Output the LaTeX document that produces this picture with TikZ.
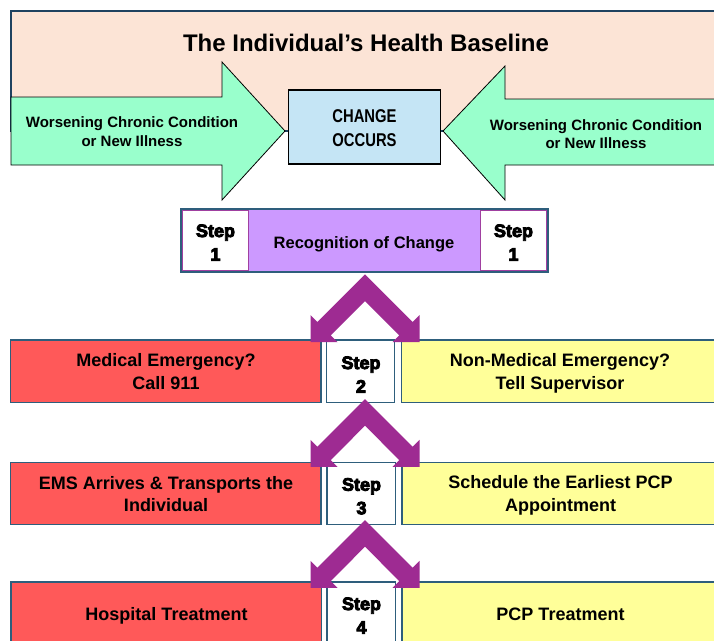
\documentclass[tikz,border=0pt]{standalone}
\usepackage{fontspec}
\setmainfont{Liberation Sans}
\newfontfamily\heavyfont[FakeBold=5]{Liberation Sans Bold}
\newfontfamily\narrowfont[FakeStretch=0.8]{Liberation Sans Bold}
\definecolor{peach}{HTML}{FCE4D6}
\definecolor{mint}{HTML}{99FFCC}
\definecolor{skyb}{HTML}{C5E5F5}
\definecolor{lilac}{HTML}{CC99FF}
\definecolor{coral}{HTML}{FF5959}
\definecolor{lemon}{HTML}{FFFF99}
\definecolor{plum}{HTML}{9E2B92}
\definecolor{edgeblue}{HTML}{2E5E7C}
\definecolor{darknavy}{HTML}{1F4260}
\definecolor{stepedge}{HTML}{A040A0}
\newcommand{\twolines}[1]{\begin{tabular}[t]{@{}c@{}}#1\end{tabular}}
\tikzset{
  box/.style={draw=edgeblue, line width=1.4pt, inner sep=0pt, outer sep=0pt, anchor=north west},
  stepbox/.style={box, fill=white},
  rowtxt/.style={anchor=base, inner sep=0pt, font=\fontsize{18}{22.6}\selectfont\bfseries},
  steptxt/.style={anchor=base, inner sep=0pt, font=\fontsize{18}{23.6}\selectfont\heavyfont},
  greentxt/.style={anchor=base, inner sep=0pt, font=\fontsize{15}{18.3}\selectfont\bfseries},
  chevron/.pic={
    \fill[plum] (0,0) -- (47.7,47.7) -- (54.5,40.85) -- (54.5,67.85) -- (27.5,67.85)
      -- (34.3,61.1) -- (0,26.7) -- (-34.3,61.1) -- (-27.5,67.85) -- (-54.5,67.85)
      -- (-54.5,40.85) -- (-47.7,47.7) -- cycle;
  }
}
\begin{document}
\begin{tikzpicture}[x=1pt,y=-1pt]
\fill[white] (0,0) rectangle (714,640);
\useasboundingbox (0,0) rectangle (714,640);
\clip (0,0) rectangle (714,640);

% baseline box
\node[box, draw=darknavy, line width=1.2pt, fill=peach, minimum width=712pt, minimum height=120pt] (baseline) at (11,11) {};
\node[anchor=base, inner sep=0pt, font=\fontsize{24}{28}\selectfont\bfseries] (title) at (366,51.7) {The Individual’s Health Baseline};

% green arrows
\coordinate (ltip) at (285,131);
\coordinate (rtip) at (443,131);
\draw[fill=mint, line width=0.8pt, line join=miter] (11,97) -- (222,97) -- (222,62) -- (ltip) -- (222,200) -- (222,165) -- (11,165) -- cycle;
\draw[fill=mint, line width=0.8pt, line join=miter] (722,99) -- (505,99) -- (505,66) -- (rtip) -- (505,200) -- (505,165) -- (722,165) -- cycle;
\node[greentxt] (ltxt) at (132,127.7) {\twolines{Worsening Chronic Condition\\or New Illness}};
\node[greentxt] (rtxt) at (596,130) {\twolines{Worsening Chronic Condition\\or New Illness}};

% change occurs
\node[box, draw=black, line width=1.6pt, fill=skyb, minimum width=152pt, minimum height=74pt] (change) at (288.5,90) {};
\node[anchor=base, inner sep=0pt, font=\fontsize{18.5}{24.3}\selectfont\narrowfont] (changetxt) at (364.5,122) {\twolines{CHANGE\\OCCURS}};

% step 1 bar
\node[box, fill=lilac, minimum width=367pt, minimum height=63pt] (recog) at (181,209) {};
\node[box, draw=stepedge, line width=1.2pt, fill=white, minimum width=66pt, minimum height=60pt] (s1l) at (182.5,210.5) {};
\node[box, draw=stepedge, line width=1.2pt, fill=white, minimum width=66pt, minimum height=60pt] (s1r) at (480.5,210.5) {};
\node[anchor=base, inner sep=0pt, font=\fontsize{16.5}{20}\selectfont\bfseries] (recogtxt) at (364,248.3) {Recognition of Change};
\node[steptxt] (s1lt) at (215.5,237) {\twolines{Step\\1}};
\node[steptxt] (s1rt) at (513.5,237) {\twolines{Step\\1}};

% row 2
\node[box, fill=coral, minimum width=310.5pt, minimum height=62.5pt] (med) at (10.5,340) {};
\node[stepbox, minimum width=68pt, minimum height=62.5pt] (s2) at (326.5,340) {};
\node[box, fill=lemon, minimum width=320pt, minimum height=62.5pt] (nonmed) at (401.5,340) {};
\node[rowtxt] (medt) at (166,366.9) {\twolines{Medical Emergency?\\Call 911}};
\node[rowtxt] (nonmedt) at (560,366.9) {\twolines{Non-Medical Emergency?\\Tell Supervisor}};
\node[steptxt] (s2t) at (361,369) {\twolines{Step\\2}};

% row 3
\node[box, fill=coral, minimum width=310.5pt, minimum height=62pt] (ems) at (10.5,462.5) {};
\node[stepbox, minimum width=68.5pt, minimum height=62pt] (s3) at (327,462.5) {};
\node[box, fill=lemon, minimum width=320pt, minimum height=62pt] (sched) at (402,462.5) {};
\node[rowtxt] (emst) at (166,489) {\twolines{EMS Arrives \& Transports the\\Individual}};
\node[rowtxt] (schedt) at (560.5,488.5) {\twolines{Schedule the Earliest PCP\\Appointment}};
\node[steptxt] (s3t) at (361.5,490.7) {\twolines{Step\\3}};

% row 4
\node[box, fill=coral, minimum width=310.5pt, minimum height=63pt] (hosp) at (11,582) {};
\node[stepbox, minimum width=68.5pt, minimum height=63pt] (s4) at (327,582) {};
\node[box, fill=lemon, minimum width=320pt, minimum height=63pt] (pcp) at (402,582) {};
\node[rowtxt] (hospt) at (166.5,620.5) {Hospital Treatment};
\node[rowtxt] (pcpt) at (560.5,620.5) {PCP Treatment};
\node[steptxt] (s4t) at (361.5,610) {\twolines{Step\\4}};

% chevrons
\pic at (365,274.3) {chevron};
\pic at (365,399) {chevron};
\pic at (365,520) {chevron};
\end{tikzpicture}
\end{document}
